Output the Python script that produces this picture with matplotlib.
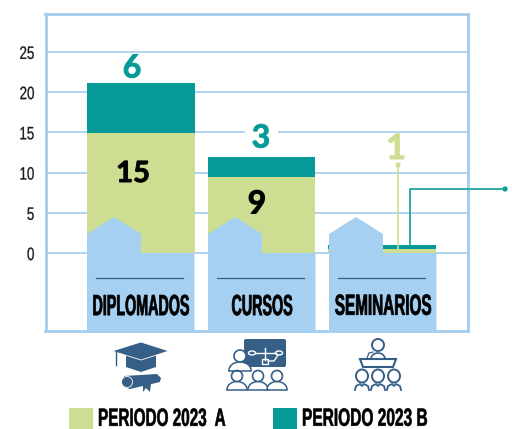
import matplotlib
matplotlib.use('Agg')
import matplotlib.pyplot as plt
from matplotlib.patches import Circle, Polygon, Rectangle, FancyBboxPatch, Ellipse
from matplotlib.patheffects import AbstractPathEffect
from matplotlib.transforms import Affine2D

categories = ['DIPLOMADOS', 'CURSOS', 'SEMINARIOS']
periodo_a = [14.9, 9.4, 0.5]
periodo_b = [6.2, 2.5, 0.5]
labels_a = ['15', '9', '1']
labels_b = ['6', '3', '']
y_ticks = [0, 5, 10, 15, 20, 25]
legend_names = ['PERIODO 2023  A', 'PERIODO 2023 B']

GREEN = '#CDDE92'
TEAL = '#059A98'
BLUE = '#A6D0F1'
LINE = '#A3CDEE'
ICON = '#365F88'
FONT = 'Liberation Sans'

W, H = 512, 429


class Tall(AbstractPathEffect):
    # no condensed font is installed, so a small font is stretched upward when drawn
    def __init__(self, sy=1.0, stroke=0.0, dy=0.0):
        super().__init__()
        self.sy = sy
        self.stroke = stroke
        self.dy = dy

    def draw_path(self, renderer, gc, tpath, affine, rgbFace=None):
        box = tpath.get_extents(affine)
        y0 = (box.y0 + box.y1) / 2
        new = affine + Affine2D().translate(0, -y0).scale(1, self.sy).translate(0, y0 + self.dy)
        gc0 = renderer.new_gc()
        gc0.copy_properties(gc)
        if self.stroke:
            gc0.set_linewidth(self.stroke)
            gc0.set_foreground(rgbFace)
        renderer.draw_path(gc0, tpath, new, rgbFace)
        gc0.restore()


fig = plt.figure(figsize=(W / 100, H / 100), dpi=100)
ax = fig.add_axes([45.5 / W, 1 - 331 / H, 422.5 / W, 317 / H])

x = list(range(len(categories)))
ax.bar(x, periodo_a, width=0.895, color=GREEN, zorder=2)
ax.bar(x, periodo_b, width=0.895, bottom=periodo_a, color=TEAL, zorder=2)

ax.set_xlim(-0.793, 2.713)
ax.set_ylim(-9.7, 29.7)
ax.set_yticks(y_ticks)
ax.set_xticks([])
ax.grid(True, axis='y', color=LINE, linewidth=1.2)
ax.set_axisbelow(True)
ax.tick_params(axis='y', length=0, pad=8)
for t in ax.get_yticklabels():
    t.set_family(FONT)
    t.set_fontsize(9.6)
    t.set_color('#1a1a1a')
    t.set_path_effects([Tall(1.35, 0.2, -1)])
for s in ax.spines.values():
    s.set_color(LINE)
    s.set_linewidth(2)

# overlay in pixel coordinates for the drawn decoration
ov = fig.add_axes([0, 0, 1, 1], zorder=5)
ov.set_xlim(0, W)
ov.set_ylim(H, 0)
ov.axis('off')

# blue house shapes and category names
for left, name, size in zip([87, 208, 329], categories, [10.3, 10.3, 11.0]):
    ov.add_patch(Polygon([(left, 333), (left, 234), (left + 27, 217), (left + 54, 234),
                          (left + 54, 253), (left + 107.5, 253), (left + 107.5, 333)],
                         closed=True, fc=BLUE, ec='none'))
    ov.plot([left + 9, left + 96], [278, 278], color=ICON, lw=0.9)
    ov.text(left + 54, 306, name, ha='center', va='center', family=FONT, fontsize=size,
            fontweight='bold', color='black', path_effects=[Tall(21 / size, 0.5)])


def value_label(px, py, text, size, color):
    ov.text(px, py, text, ha='center', va='center', family='Lato', fontsize=size,
            fontweight='bold', color=color, path_effects=[Tall(stroke=0.7)])


value_label(132, 68, labels_b[0], 23, TEAL)
value_label(133, 174, labels_a[0], 21, 'black')
ov.add_patch(Rectangle((245, 128), 33, 8, fc='white', ec='none'))
value_label(261, 138, labels_b[1], 23, TEAL)
value_label(257, 204, labels_a[1], 23, 'black')
value_label(396, 149, labels_a[2], 25, GREEN)

# leader lines
ov.plot([398, 398], [165, 249], color=GREEN, lw=1.2)
ov.add_patch(Circle((398, 165), 2.6, fc=GREEN, ec='none'))
ov.plot([410, 410, 505], [245, 189, 189], color='#1FA5A3', lw=1.3)
ov.add_patch(Circle((505, 189), 2.6, fc=TEAL, ec='none'))


def person(cx, cy, r, body_w, body_h):
    base = cy + r + body_h
    ov.add_patch(Ellipse((cx, base), 2 * body_w, 2 * body_h, fc='white', ec=ICON, lw=1.1))
    ov.add_patch(Rectangle((cx - body_w - 1, base + 0.6), 2 * body_w + 2, body_h + 1, fc='white', ec='none'))
    ov.plot([cx - body_w, cx + body_w], [base + 0.5] * 2, color=ICON, lw=1.1)
    ov.add_patch(Circle((cx, cy), r, fc='white', ec=ICON, lw=1.2))


# graduation cap
ov.add_patch(Polygon([(126, 353), (156, 353), (156, 367), (141, 372), (126, 367)], fc=ICON, ec='none'))
ov.add_patch(Polygon([(112, 351), (141, 342), (169, 351), (141, 360)], fc=ICON, ec='white', lw=0.6))
ov.plot([116, 116], [352, 365], color=ICON, lw=1)
ov.add_patch(Polygon([(124, 376), (157, 374), (161, 378), (160, 382), (130, 389), (124, 387)], fc=ICON, ec='none'))
ov.add_patch(Circle((127, 382), 5.5, fc=ICON, ec='white', lw=0.6))
ov.add_patch(Polygon([(143, 384), (151, 383), (150, 392), (146, 388), (143, 392)], fc=ICON, ec='none'))

# course icon
ov.add_patch(FancyBboxPatch((244, 339), 42, 28, boxstyle='round,pad=0,rounding_size=2', fc=ICON, ec='none'))
ov.plot([256, 276], [353, 353], color='white', lw=1)
ov.plot([265, 265], [348, 360], color='white', lw=1)
ov.add_patch(Ellipse((252, 353), 7, 4, fc=ICON, ec='white', lw=1))
ov.add_patch(Ellipse((279, 353), 7, 4, fc=ICON, ec='white', lw=1))
ov.add_patch(Rectangle((262, 359), 6, 4.5, fc=ICON, ec='white', lw=1))
ov.plot([268, 274, 278], [361, 361, 355], color='white', lw=1)
person(240, 356, 6, 11, 8)
for cx in [237, 258, 277]:
    person(cx, 376, 5.5, 10, 8)

# seminar icon
ov.add_patch(Ellipse((378, 359), 14, 12, fc='white', ec=ICON, lw=1.2))
ov.add_patch(Polygon([(360, 359), (396, 359), (393, 367), (363, 367)], fc='white', ec=ICON, lw=1.5))
ov.add_patch(Circle((378, 345), 6, fc='white', ec=ICON, lw=1.4))
ov.plot([367, 369, 373], [358, 353, 352], color=ICON, lw=0.9)
for cx in [362, 378, 394]:
    ov.add_patch(Ellipse((cx, 376), 12, 13, fc='white', ec=ICON, lw=1.4))
    ov.plot([cx - 7, cx - 6, cx - 2, cx, cx + 2, cx + 6, cx + 7],
            [390, 386, 384, 386, 384, 386, 390], color=ICON, lw=1.3)

# legend
for left, color, name, size in zip([69, 273], [GREEN, TEAL], legend_names, [11.0, 11.15]):
    ov.add_patch(Rectangle((left, 408), 24, 21, fc=color, ec='none'))
    ov.text(left + 29, 418.5, name, ha='left', va='center', family=FONT, fontsize=size,
            fontweight='bold', color='black', path_effects=[Tall(18 / size, 0.4)])

fig.savefig('out.png', dpi=100)
